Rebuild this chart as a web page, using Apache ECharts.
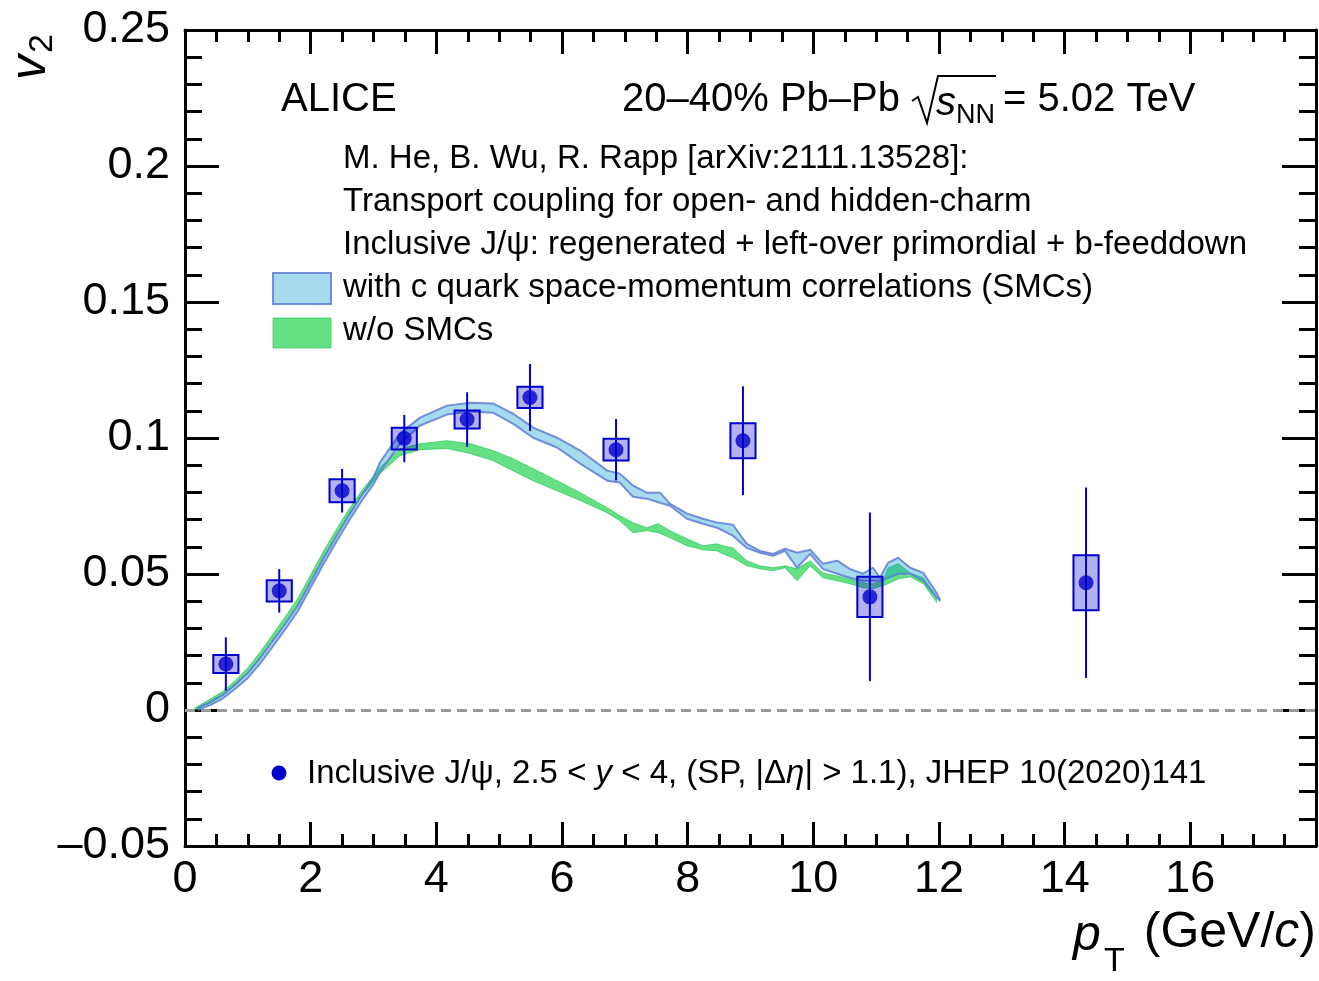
<!DOCTYPE html>
<html>
<head>
<meta charset="utf-8">
<title>J/psi v2 vs pT</title>
<script src="https://cdn.jsdelivr.net/npm/echarts@6/dist/echarts.min.js"></script>
<style>
  html, body { margin: 0; padding: 0; background: #fff; }
  #chart { width: 1319px; height: 981px; }
</style>
</head>
<body>
<div id="chart"></div>
<script>
// ---- ALICE inclusive J/psi v2 (20-40% Pb-Pb, 5.02 TeV) ----
const ptMean   = [0.65, 1.50, 2.50, 3.49, 4.49, 5.49, 6.86, 8.88, 10.90, 14.34];
const v2Value  = [0.0169, 0.0438, 0.0806, 0.0998, 0.1068, 0.1149, 0.0957, 0.0990, 0.0416, 0.0468];
const v2Stat   = [0.0098, 0.0080, 0.0080, 0.0087, 0.0100, 0.0123, 0.0113, 0.0200, 0.0310, 0.0350];
const v2Syst   = [0.0033, 0.0039, 0.0042, 0.0040, 0.0033, 0.0039, 0.0040, 0.0064, 0.0074, 0.0101];

// ---- Transport model: with c-quark SMCs ----
const smcPt = [0.2, 0.4, 0.6, 0.8, 1.0, 1.2, 1.4, 1.6, 1.8, 2.0, 2.2, 2.4, 2.6, 2.8, 3.0, 3.1,
  3.42, 3.74, 4.17, 4.54, 4.90, 5.22, 5.54, 5.92, 6.29, 6.72, 6.92, 7.13, 7.35, 7.56, 7.72,
  7.99, 8.24, 8.47, 8.72, 8.94, 9.15, 9.36, 9.55, 9.74, 9.95, 10.15, 10.38, 10.58, 10.79,
  10.95, 11.06, 11.19, 11.35, 11.54, 11.75, 11.97, 12.02];
const smcLow = [0.0000, 0.0018, 0.0042, 0.0078, 0.0118, 0.0172, 0.0235, 0.0298, 0.0365, 0.0450,
  0.0535, 0.0615, 0.0692, 0.0765, 0.0830, 0.0873, 0.0979, 0.1046, 0.1086, 0.1097, 0.1093,
  0.1053, 0.1001, 0.0965, 0.0906, 0.0843, 0.0836, 0.0784, 0.0777, 0.0762, 0.0751, 0.0703,
  0.0685, 0.0670, 0.0641, 0.0596, 0.0578, 0.0567, 0.0585, 0.0523, 0.0574, 0.0519, 0.0501,
  0.0486, 0.0475, 0.0475, 0.0475, 0.0486, 0.0501, 0.0501, 0.0475, 0.0412, 0.0401];
const smcHigh = [0.0006, 0.0030, 0.0056, 0.0094, 0.0136, 0.0192, 0.0255, 0.0318, 0.0385, 0.0470,
  0.0555, 0.0635, 0.0712, 0.0786, 0.0855, 0.0909, 0.1016, 0.1075, 0.1119, 0.1130, 0.1127,
  0.1090, 0.1038, 0.1001, 0.0954, 0.0880, 0.0869, 0.0825, 0.0799, 0.0799, 0.0758, 0.0722,
  0.0703, 0.0689, 0.0681, 0.0611, 0.0585, 0.0574, 0.0593, 0.0578, 0.0589, 0.0538, 0.0549,
  0.0519, 0.0501, 0.0523, 0.0486, 0.0541, 0.0560, 0.0523, 0.0504, 0.0427, 0.0405];

// ---- Transport model: without SMCs ----
const noSmcPt = [0.15, 0.4, 0.6, 0.8, 1.0, 1.2, 1.4, 1.6, 1.8, 2.0, 2.2, 2.4, 2.6, 2.8, 3.1,
  3.42, 3.74, 4.17, 4.54, 4.90, 5.22, 5.54, 5.92, 6.29, 6.72, 6.92, 7.13, 7.35, 7.53, 7.72,
  7.99, 8.24, 8.47, 8.56, 8.72, 8.94, 9.15, 9.36, 9.55, 9.74, 9.95, 10.15, 10.38, 10.58,
  10.79, 10.95, 11.11, 11.19, 11.35, 11.54, 11.75, 11.97];
const noSmcLow = [0.0000, 0.0025, 0.0052, 0.0090, 0.0135, 0.0192, 0.0257, 0.0322, 0.0390, 0.0475,
  0.0560, 0.0640, 0.0715, 0.0783, 0.0869, 0.0935, 0.0957, 0.0961, 0.0943, 0.0917, 0.0880,
  0.0843, 0.0806, 0.0770, 0.0725, 0.0696, 0.0652, 0.0659, 0.0652, 0.0633, 0.0604, 0.0589,
  0.0585, 0.0574, 0.0560, 0.0530, 0.0519, 0.0512, 0.0523, 0.0475, 0.0530, 0.0486, 0.0475,
  0.0464, 0.0449, 0.0446, 0.0457, 0.0464, 0.0482, 0.0490, 0.0464, 0.0394];
const noSmcHigh = [0.0006, 0.0040, 0.0068, 0.0108, 0.0155, 0.0214, 0.0279, 0.0344, 0.0412, 0.0497,
  0.0582, 0.0660, 0.0735, 0.0802, 0.0891, 0.0961, 0.0979, 0.0990, 0.0979, 0.0954, 0.0924,
  0.0887, 0.0843, 0.0799, 0.0744, 0.0714, 0.0689, 0.0670, 0.0685, 0.0659, 0.0630, 0.0604,
  0.0611, 0.0604, 0.0596, 0.0549, 0.0530, 0.0523, 0.0530, 0.0519, 0.0549, 0.0504, 0.0493,
  0.0482, 0.0468, 0.0464, 0.0475, 0.0523, 0.0538, 0.0504, 0.0486, 0.0412];

// ---- axis tick labels ----
const xTickLabels = ['0', '2', '4', '6', '8', '10', '12', '14', '16', ''];
const yTickLabels = ['\u20130.05', '0', '0.05', '0.1', '0.15', '0.2', '0.25'];

// ---- styling ----
const FONT = '"Liberation Sans", Arial, Helvetica, sans-serif';
const BOX_HALF_WIDTH = 0.2;          // half width of systematic boxes in pT
const DATA_COLOR = '#0000cc';
const SMC_FILL = 'rgba(0,153,204,0.35)';
const SMC_EDGE = 'rgba(95,125,215,0.85)';
const NOSMC_FILL = 'rgba(0,204,51,0.6)';
const NOSMC_EDGE = 'rgba(0,190,60,0.55)';

function bandSeries(name, xs, lo, hi, fill, edge, edgeWidth, z) {
  return {
    type: 'custom',
    name: name,
    z: z,
    silent: true,
    data: xs.map((x, i) => [x, lo[i], hi[i]]),
    encode: { x: 0, y: [1, 2] },
    renderItem: function (params, api) {
      if (params.dataIndexInside !== 0) return null;
      const n = params.dataInsideLength;
      const low = [], high = [];
      for (let i = 0; i < n; i++) {
        low.push(api.coord([api.value(0, i), api.value(1, i)]));
        high.push(api.coord([api.value(0, i), api.value(2, i)]));
      }
      return {
        type: 'group',
        children: [
          { type: 'polygon', shape: { points: low.concat(high.slice().reverse()) },
            style: { fill: fill, stroke: null } },
          { type: 'polyline', shape: { points: low },
            style: { fill: null, stroke: edge, lineWidth: edgeWidth, lineJoin: 'round' } },
          { type: 'polyline', shape: { points: high },
            style: { fill: null, stroke: edge, lineWidth: edgeWidth, lineJoin: 'round' } }
        ]
      };
    }
  };
}

const dataRows = ptMean.map((x, i) => [x, v2Value[i], v2Stat[i], v2Syst[i]]);

const chart = echarts.init(document.getElementById('chart'), null, { renderer: 'canvas' });

const axisLineStyle = { show: true, onZero: false, lineStyle: { color: '#000', width: 3 } };

function xAxisDef(pos, showLabels) {
  return {
    type: 'value', position: pos, min: 0, max: 18, interval: 2,
    axisLine: axisLineStyle,
    axisTick: { show: true, inside: true, length: 24, lineStyle: { color: '#000', width: 3 } },
    minorTick: { show: true, splitNumber: 4, length: 12, lineStyle: { color: '#000', width: 3 } },
    splitLine: { show: false },
    axisLabel: {
      show: showLabels, margin: 11, color: '#000', fontFamily: FONT, fontSize: 45,
      formatter: v => xTickLabels[Math.round(v / 2)]
    }
  };
}
function yAxisDef(pos, showLabels) {
  return {
    type: 'value', position: pos, min: -0.05, max: 0.25, interval: 0.05,
    axisLine: axisLineStyle,
    axisTick: { show: true, inside: true, length: 34, lineStyle: { color: '#000', width: 3 } },
    minorTick: { show: true, splitNumber: 5, length: 17, lineStyle: { color: '#000', width: 3 } },
    splitLine: { show: false },
    axisLabel: {
      show: showLabels, margin: 15, color: '#000', fontFamily: FONT, fontSize: 45,
      formatter: v => yTickLabels[Math.round((v + 0.05) / 0.05)]
    }
  };
}

function txt(x, y, text, size, extra) {
  return {
    type: 'text', x: x, y: y, silent: true,
    style: Object.assign({
      text: text, fontFamily: FONT, fontSize: size, fill: '#000',
      align: 'left', verticalAlign: 'middle',
      textAlign: 'left', textVerticalAlign: 'middle'
    }, extra || {})
  };
}

const option = {
  animation: false,
  backgroundColor: '#fff',
  grid: { left: 185, right: 3, top: 30, bottom: 135, containLabel: false },
  xAxis: [xAxisDef('bottom', true), xAxisDef('top', false)],
  yAxis: [yAxisDef('left', true), yAxisDef('right', false)],
  series: [
    bandSeries('w/o SMCs', noSmcPt, noSmcLow, noSmcHigh, NOSMC_FILL, NOSMC_EDGE, 1, 2),
    bandSeries('with SMCs', smcPt, smcLow, smcHigh, SMC_FILL, SMC_EDGE, 2, 3),
    {
      // systematic boxes and statistical bars
      type: 'custom', name: 'uncertainties', z: 4, silent: true,
      data: dataRows,
      encode: { x: 0, y: 1 },
      renderItem: function (params, api) {
        const x = api.value(0), y = api.value(1), st = api.value(2), sy = api.value(3);
        const tl = api.coord([x - BOX_HALF_WIDTH, y + sy]);
        const br = api.coord([x + BOX_HALF_WIDTH, y - sy]);
        const top = api.coord([x, y + st]);
        const bot = api.coord([x, y - st]);
        return {
          type: 'group',
          children: [
            { type: 'rect',
              shape: { x: tl[0], y: tl[1], width: br[0] - tl[0], height: br[1] - tl[1] },
              style: { fill: 'rgba(0,0,204,0.3)', stroke: DATA_COLOR, lineWidth: 2 } },
            { type: 'line',
              shape: { x1: top[0], y1: top[1], x2: bot[0], y2: bot[1] },
              style: { stroke: DATA_COLOR, lineWidth: 2 } }
          ]
        };
      }
    },
    {
      type: 'scatter', name: 'Inclusive J/psi', z: 5, silent: true,
      data: dataRows.map(r => [r[0], r[1]]),
      symbol: 'circle', symbolSize: 15,
      itemStyle: { color: DATA_COLOR },
      markLine: {
        silent: true, symbol: 'none', z: 1,
        label: { show: false },
        lineStyle: { color: '#9a9a9a', width: 3, type: [10, 6] },
        data: [{ yAxis: 0 }]
      }
    }
  ],
  graphic: [
    // axis titles
    {
      type: 'group', x: 31, y: 80, rotation: Math.PI / 2, silent: true,
      children: [
        txt(0, 0, 'v', 50, { fontStyle: 'italic' }),
        txt(27, 12, '2', 34)
      ]
    },
    txt(1073, 936, 'p', 50, { fontStyle: 'italic' }),
    txt(1104, 962, 'T', 34),
    {
      type: 'text', x: 1316, y: 933, silent: true,
      style: {
        text: '{n|(GeV/}{i|c}{n|)}', fontFamily: FONT, fontSize: 50, fill: '#000',
        align: 'right', verticalAlign: 'middle', textAlign: 'right', textVerticalAlign: 'middle',
        rich: {
          n: { fontFamily: FONT, fontSize: 50, fill: '#000' },
          i: { fontFamily: FONT, fontSize: 50, fill: '#000', fontStyle: 'italic' }
        }
      }
    },
    // header
    txt(281, 100, 'ALICE', 40),
    txt(622, 100, '20\u201340% Pb\u2013Pb', 40),
    {
      type: 'polyline', silent: true,
      shape: { points: [[912, 101], [918, 97], [927, 123], [938, 76], [996, 76]] },
      style: { fill: null, stroke: '#000', lineWidth: 2 }
    },
    txt(936, 104, 's', 40, { fontStyle: 'italic' }),
    txt(956, 116, 'NN', 27),
    txt(1003, 100, '= 5.02 TeV', 40),
    // model description
    txt(343, 159, 'M. He, B. Wu, R. Rapp [arXiv:2111.13528]:', 33),
    txt(343, 202, 'Transport coupling for open- and hidden-charm', 33),
    txt(343, 245, 'Inclusive J/\u03c8: regenerated + left-over primordial + b-feeddown', 33),
    txt(343, 288, 'with c quark space-momentum correlations (SMCs)', 33),
    txt(343, 331, 'w/o SMCs', 33),
    {
      type: 'rect', silent: true,
      shape: { x: 273, y: 273, width: 58, height: 31 },
      style: { fill: SMC_FILL, stroke: SMC_EDGE, lineWidth: 2 }
    },
    {
      type: 'rect', silent: true,
      shape: { x: 273, y: 318, width: 58, height: 30 },
      style: { fill: NOSMC_FILL, stroke: NOSMC_EDGE, lineWidth: 1 }
    },
    // data legend
    {
      type: 'circle', silent: true,
      shape: { cx: 279, cy: 773, r: 7.5 },
      style: { fill: DATA_COLOR }
    },
    {
      type: 'text', x: 307, y: 774, silent: true,
      style: {
        text: '{n|Inclusive J/\u03c8, 2.5 < }{i|y}{n| < 4, (SP, |\u0394}{i|\u03b7}{n|| > 1.1), JHEP 10(2020)141}',
        fontFamily: FONT, fontSize: 33, fill: '#000',
        align: 'left', verticalAlign: 'middle', textAlign: 'left', textVerticalAlign: 'middle',
        rich: {
          n: { fontFamily: FONT, fontSize: 33, fill: '#000' },
          i: { fontFamily: FONT, fontSize: 33, fill: '#000', fontStyle: 'italic' }
        }
      }
    }
  ]
};

chart.setOption(option);
</script>
</body>
</html>
